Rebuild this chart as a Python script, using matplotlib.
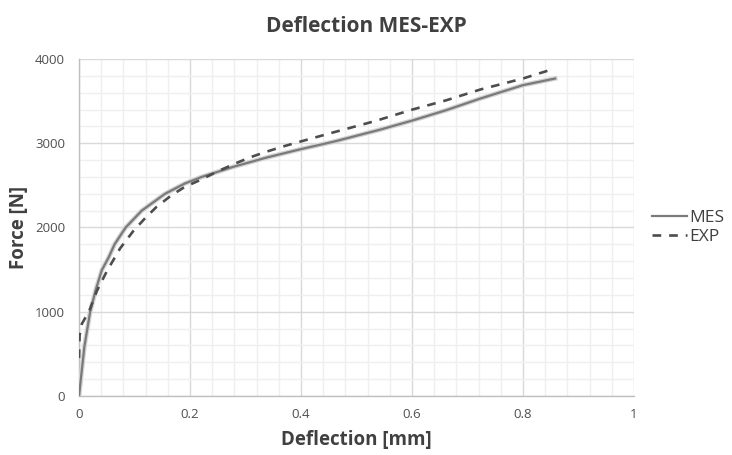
import matplotlib
matplotlib.use("Agg")
import matplotlib.pyplot as plt
from matplotlib.ticker import MultipleLocator, FuncFormatter

# Data
mes_x = [0, 0.004, 0.0096, 0.02, 0.03, 0.041, 0.053, 0.064, 0.084, 0.113, 0.155,
         0.191, 0.221, 0.278, 0.338, 0.4, 0.458, 0.542, 0.601, 0.662, 0.723, 0.8, 0.858]
mes_y = [0, 250, 585, 1000, 1257, 1494, 1640, 1800, 2000, 2200, 2400,
         2523, 2600, 2720, 2830, 2930, 3017, 3160, 3270, 3393, 3530, 3689, 3768]

exp_x = [0, 0.001, 0.005, 0.019, 0.032, 0.05, 0.074, 0.098, 0.119, 0.14, 0.167,
         0.191, 0.218, 0.248, 0.278, 0.308, 0.338, 0.368, 0.398, 0.458, 0.518,
         0.542, 0.601, 0.662, 0.723, 0.8, 0.857]
exp_y = [450, 720, 855, 1020, 1245, 1480, 1752, 1960, 2110, 2247, 2384,
         2483, 2562, 2660, 2750, 2832, 2900, 2962, 3018, 3128, 3235,
         3280, 3400, 3510, 3637, 3768, 3886]

x_ticks = [0, 0.2, 0.4, 0.6, 0.8, 1]
y_ticks = [0, 1000, 2000, 3000, 4000]

plt.rcParams['font.family'] = ['Open Sans', 'DejaVu Sans']

fig = plt.figure(figsize=(7.32, 4.55), dpi=100)
ax = fig.add_axes([0.108, 0.1297, 0.758, 0.7407])

ax.plot(mes_x, mes_y, color='#d4d4d4', lw=3.4, solid_joinstyle='round', zorder=3)
ax.plot(mes_x, mes_y, color='#7a7a7a', lw=1.6, solid_joinstyle='round', label='MES', zorder=4)
ax.plot(exp_x, exp_y, color='#4d4d4d', lw=1.9, dashes=(3.3, 3.0), label='EXP', zorder=5)

ax.set_xlim(0, 1)
ax.set_ylim(0, 4000)
ax.set_xticks(x_ticks)
ax.set_yticks(y_ticks)
ax.xaxis.set_major_formatter(FuncFormatter(lambda v, p: ('%g' % v)))
ax.xaxis.set_minor_locator(MultipleLocator(0.04))
ax.yaxis.set_minor_locator(MultipleLocator(200))
ax.grid(which='major', color='#d9d9d9', lw=1.0)
ax.grid(which='minor', color='#efefef', lw=1.0)
ax.set_axisbelow(True)
ax.tick_params(which='both', length=0, labelsize=9.5, labelcolor='#505050')
ax.tick_params(axis='x', pad=9)
ax.tick_params(axis='y', pad=10)

for s in ['top', 'right']:
    ax.spines[s].set_visible(False)
for s in ['left', 'bottom']:
    ax.spines[s].set_color('#bfbfbf')
    ax.spines[s].set_linewidth(1.0)

ax.set_xlabel('Deflection [mm]', fontsize=13.5, fontweight='bold', color='#404040', labelpad=6)
ax.set_ylabel('Force [N]', fontsize=13.5, fontweight='bold', color='#404040', labelpad=4)
fig.suptitle('Deflection MES-EXP', x=0.5, y=0.965, fontsize=15, fontweight='bold', color='#404040')

leg = ax.legend(loc='center left', bbox_to_anchor=(1.02, 0.5), frameon=False,
                fontsize=12.5, handlelength=2.0, handletextpad=0.15, labelspacing=0.2,
                borderaxespad=0)
for t in leg.get_texts():
    t.set_color('#404040')

fig.savefig('out.png', dpi=100)
